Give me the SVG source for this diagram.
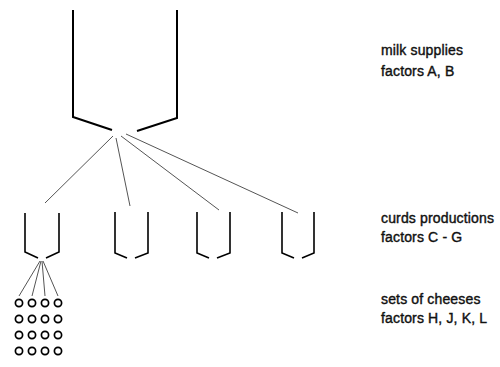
<svg xmlns="http://www.w3.org/2000/svg" width="500" height="367" viewBox="0 0 500 367">
  <style>
    .vat { fill: none; stroke: #000; stroke-width: 2; stroke-linejoin: miter; }
    .cup { fill: none; stroke: #000; stroke-width: 1.6; }
    .link { fill: none; stroke: #555; stroke-width: 1; }
    .cheese { fill: none; stroke: #000; stroke-width: 1.7; }
    .label { font-family: "Liberation Sans", Arial, sans-serif; font-size: 14px; letter-spacing: 0.15px; fill: #111; stroke: #111; stroke-width: 0.4; }
  </style>
  <rect width="500" height="367" fill="#fff"/>

  <!-- connectors -->
  <g id="connectors">
    <line class="link" x1="113" y1="136" x2="45" y2="203"/>
    <line class="link" x1="116" y1="138" x2="130" y2="206"/>
    <line class="link" x1="121" y1="136" x2="219" y2="210"/>
    <line class="link" x1="126" y1="134" x2="298" y2="213"/>
    <line class="link" x1="40" y1="261" x2="19" y2="296"/>
    <line class="link" x1="41" y1="261" x2="32" y2="296"/>
    <line class="link" x1="42" y1="261" x2="45" y2="296"/>
    <line class="link" x1="43" y1="261" x2="58" y2="296"/>
  </g>

  <!-- milk vat -->
  <g id="vat">
    <polyline class="vat" points="73,10 73,117 112,130"/>
    <polyline class="vat" points="177,10 177,118 137,131"/>
  </g>

  <!-- curd vessels -->
  <g id="cup1">
    <polyline class="cup" points="25,213 25,252 38,258"/>
    <polyline class="cup" points="59,213 59,252 46,258"/>
  </g>
  <g id="cup2">
    <polyline class="cup" points="115,212 115,253 127,258"/>
    <polyline class="cup" points="148,212 148,253 135,258"/>
  </g>
  <g id="cup3">
    <polyline class="cup" points="197,212 197,253 209,258"/>
    <polyline class="cup" points="230,212 230,253 217,258"/>
  </g>
  <g id="cup4">
    <polyline class="cup" points="282,212 282,253 294,258"/>
    <polyline class="cup" points="314,212 314,253 302,258"/>
  </g>

  <!-- cheese sets -->
  <g id="cheeses">
    <g>
      <circle class="cheese" cx="19" cy="303" r="3.6"/>
      <circle class="cheese" cx="32" cy="303" r="3.6"/>
      <circle class="cheese" cx="45" cy="303" r="3.6"/>
      <circle class="cheese" cx="58" cy="303" r="3.6"/>
    </g>
    <g>
      <circle class="cheese" cx="19" cy="319" r="3.6"/>
      <circle class="cheese" cx="32" cy="319" r="3.6"/>
      <circle class="cheese" cx="45" cy="319" r="3.6"/>
      <circle class="cheese" cx="58" cy="319" r="3.6"/>
    </g>
    <g>
      <circle class="cheese" cx="19" cy="335" r="3.6"/>
      <circle class="cheese" cx="32" cy="335" r="3.6"/>
      <circle class="cheese" cx="45" cy="335" r="3.6"/>
      <circle class="cheese" cx="58" cy="335" r="3.6"/>
    </g>
    <g>
      <circle class="cheese" cx="19" cy="351" r="3.6"/>
      <circle class="cheese" cx="32" cy="351" r="3.6"/>
      <circle class="cheese" cx="45" cy="351" r="3.6"/>
      <circle class="cheese" cx="58" cy="351" r="3.6"/>
    </g>
  </g>

  <!-- level labels -->
  <g id="label-milk">
    <text class="label" x="381" y="55">milk supplies</text>
    <text class="label" x="381" y="76">factors A, B</text>
  </g>
  <g id="label-curds">
    <text class="label" x="381" y="223">curds productions</text>
    <text class="label" x="381" y="242">factors C - G</text>
  </g>
  <g id="label-cheeses">
    <text class="label" x="381" y="304">sets of cheeses</text>
    <text class="label" x="381" y="323">factors H, J, K, L</text>
  </g>
</svg>
